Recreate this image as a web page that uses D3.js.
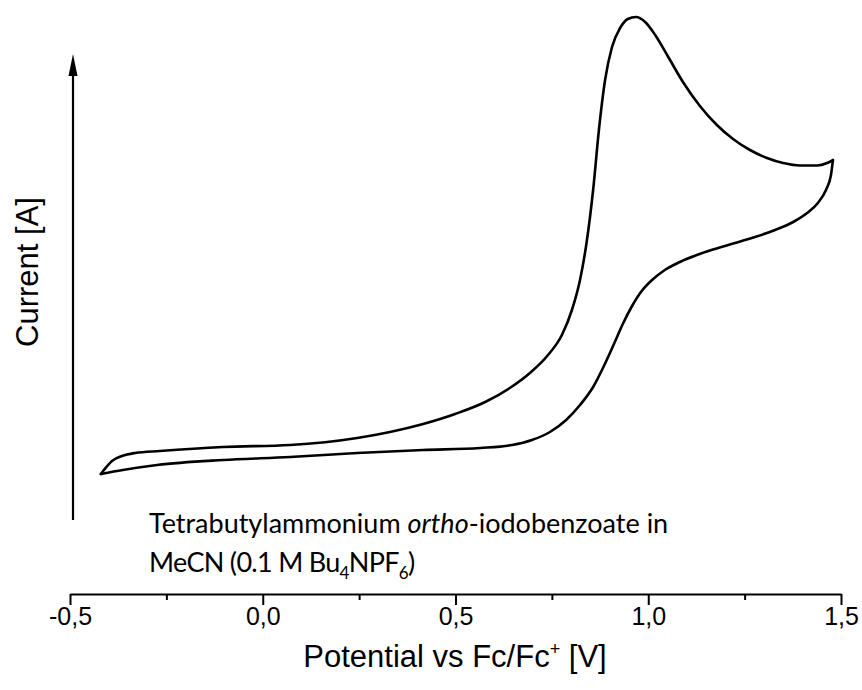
<!DOCTYPE html>
<html>
<head>
<meta charset="utf-8">
<script src="https://cdn.jsdelivr.net/npm/d3@7"></script>
<style>
  body { margin: 0; background: #fff; }
  svg { display: block; }
</style>
</head>
<body>
<div id="chart"></div>
<script>
// potential (V vs Fc/Fc+) and current (arbitrary units)
// forward (anodic) scan, upper branch
const fwdPotential = [-0.420, -0.412, -0.391, -0.365, -0.331, -0.267, -0.103, 0.071, 0.245, 0.330, 0.416, 0.499, 0.577, 0.641, 0.693, 0.740, 0.776, 0.802, 0.823, 0.841, 0.857, 0.872, 0.888, 0.906, 0.927, 0.947, 0.968, 0.992, 1.018, 1.049, 1.090, 1.134, 1.178, 1.220, 1.264, 1.308, 1.350, 1.394, 1.438, 1.464, 1.479]
const fwdCurrent = [9.2, 10.0, 11.8, 12.8, 13.4, 13.8, 14.6, 15.0, 16.4, 17.6, 19.2, 21.2, 23.6, 26.4, 29.4, 33.0, 37.0, 42.0, 48.0, 56.0, 66.0, 78.0, 88.0, 94.6, 98.4, 100.2, 100.6, 99.6, 97.0, 93.0, 87.6, 82.8, 79.0, 76.2, 74.0, 72.4, 71.4, 70.9, 70.9, 71.4, 72.0]
// reverse scan, lower branch
const revPotential = [1.479, 1.474, 1.461, 1.440, 1.412, 1.376, 1.329, 1.277, 1.225, 1.173, 1.126, 1.082, 1.043, 1.010, 0.981, 0.958, 0.934, 0.911, 0.885, 0.857, 0.823, 0.787, 0.745, 0.698, 0.647, 0.564, 0.416, 0.245, 0.071, -0.103, -0.274, -0.363, -0.420]
const revCurrent = [72.0, 69.0, 66.0, 63.4, 61.4, 59.6, 58.0, 56.6, 55.4, 54.2, 53.0, 51.6, 50.0, 48.0, 45.6, 42.8, 39.2, 35.2, 30.8, 26.6, 23.0, 20.0, 17.6, 16.0, 15.0, 14.4, 14.0, 13.4, 12.6, 12.0, 11.0, 10.0, 9.2]

const majorTicks = [-0.5, 0.0, 0.5, 1.0, 1.5]
const minorTicks = [-0.25, 0.25, 0.75, 1.25]

const width = 862
const height = 690
const axisY = 594

const forward = fwdPotential.map((v, i) => [v, fwdCurrent[i]])
const reverse = revPotential.map((v, i) => [v, revCurrent[i]]).reverse()

const x = d3.scaleLinear().domain([-0.5, 1.5]).range([70, 841])
const y = d3.scaleLinear().domain([0, 100]).range([520, 20])

const svg = d3.select('#chart')
    .append('svg')
    .attr('width', width)
    .attr('height', height)

// y axis is only an arrow, no ticks
svg.append('line')
    .attr('x1', 73).attr('x2', 73)
    .attr('y1', 520).attr('y2', 74)
    .attr('stroke', '#000')
    .attr('stroke-width', 2.2)
svg.append('path')
    .attr('d', 'M73,54 L68.5,76 L77.5,76 Z')
    .attr('fill', '#000')

const xAxis = d3.axisBottom(x)
    .tickValues(majorTicks)
    .tickSize(11)
    .tickSizeOuter(0)
    .tickPadding(2)
    .tickFormat((d) => d.toFixed(1).replace('.', ','))

const gx = svg.append('g')
    .attr('transform', `translate(0, ${axisY})`)
    .call(xAxis)
gx.select('.domain').attr('stroke-width', 2)
gx.selectAll('.tick line').attr('stroke-width', 2)
gx.selectAll('.tick text')
    .attr('font-family', 'Liberation Sans, Arial, sans-serif')
    .attr('font-size', 25)
    .attr('fill', '#000')

const gMinor = svg.append('g')
    .attr('transform', `translate(0, ${axisY})`)
    .call(d3.axisBottom(x).tickValues(minorTicks).tickSize(6).tickFormat(''))
gMinor.select('.domain').remove()
gMinor.selectAll('.tick line').attr('stroke-width', 2)

const line = d3.line()
    .x((d) => x(d[0]))
    .y((d) => y(d[1]))
    .curve(d3.curveMonotoneX)

svg.selectAll('path.scan')
    .data([forward, reverse])
    .enter()
    .append('path')
    .attr('class', 'scan')
    .attr('d', line)
    .attr('fill', 'none')
    .attr('stroke', '#000')
    .attr('stroke-width', 2.6)
    .attr('stroke-linejoin', 'round')
    .attr('stroke-linecap', 'round')

// axis titles
svg.append('text')
    .attr('x', 455)
    .attr('y', 667)
    .attr('text-anchor', 'middle')
    .attr('font-family', 'Liberation Sans, Arial, sans-serif')
    .attr('font-size', 31)
    .html('Potential vs Fc/Fc<tspan dy="-12" font-size="18">+</tspan><tspan dy="12"> [V]</tspan>')

svg.append('text')
    .attr('transform', 'translate(38, 272) rotate(-90)')
    .attr('text-anchor', 'middle')
    .attr('font-family', 'Liberation Sans, Arial, sans-serif')
    .attr('font-size', 31)
    .text('Current [A]')

// annotation
const note = svg.append('g')
    .attr('font-family', 'Lato, Open Sans, sans-serif')
    .attr('font-size', 27)
    .attr('fill', '#000')
note.append('text')
    .attr('x', 149)
    .attr('y', 533)
    .html('Tetrabutylammonium <tspan font-style="italic">ortho</tspan>-iodobenzoate in')
note.append('text')
    .attr('x', 149)
    .attr('y', 572)
    .attr('letter-spacing', -0.7)
    .html('MeCN (0.1 M Bu<tspan dy="7" font-size="17">4</tspan><tspan dy="-7">NPF</tspan><tspan dy="7" font-size="17">6</tspan><tspan dy="-7">)</tspan>')
</script>
</body>
</html>
